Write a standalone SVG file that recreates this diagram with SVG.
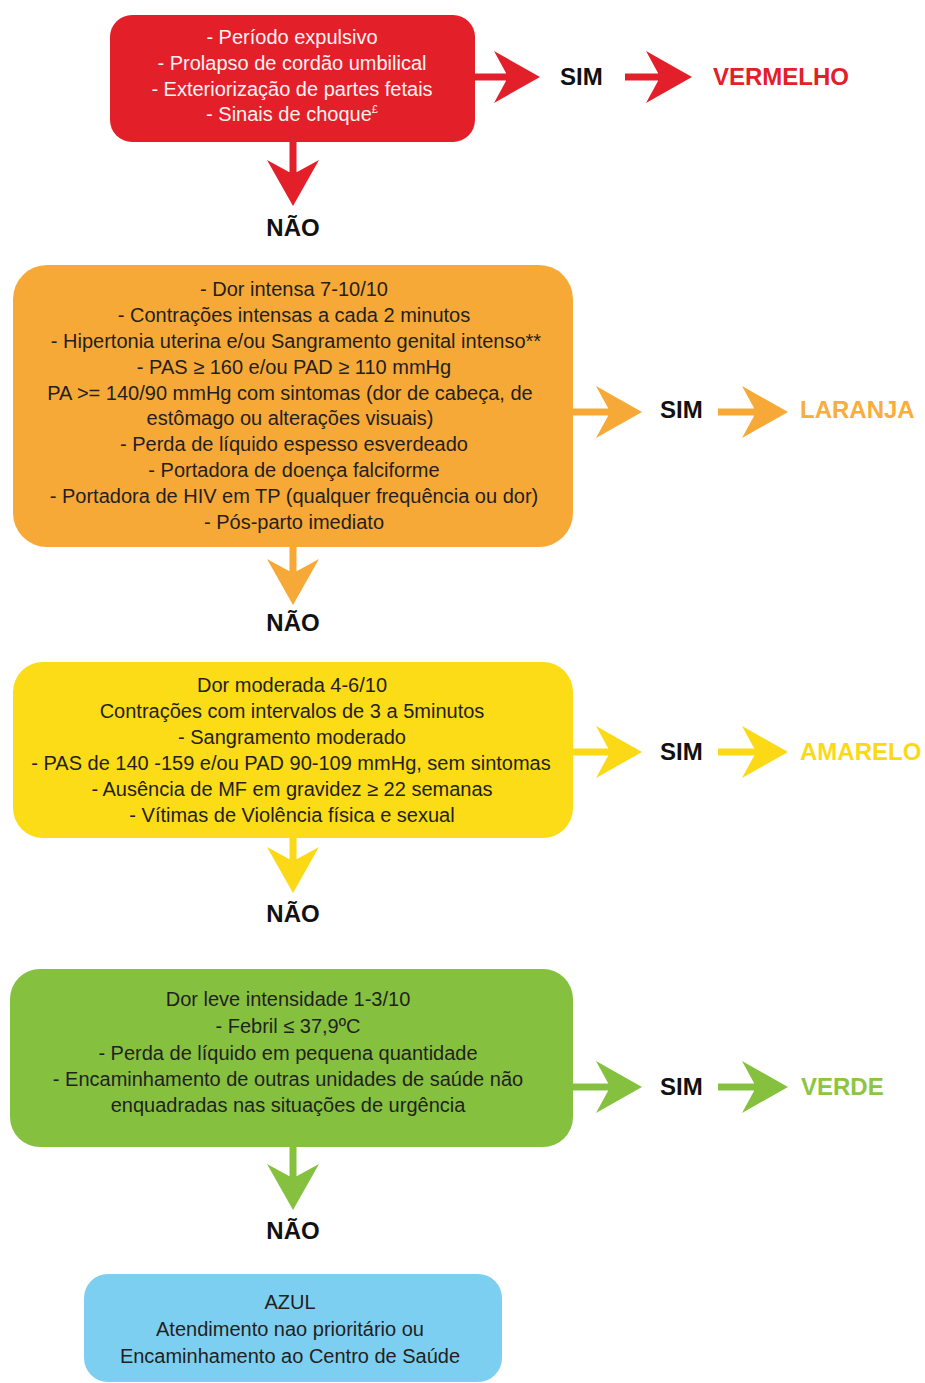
<svg xmlns="http://www.w3.org/2000/svg" width="925" height="1383" viewBox="0 0 925 1383">
  <style>
    .body { font-family: "Liberation Sans", Arial, sans-serif; font-size: 20px; text-anchor: middle; fill: #231f20; }
    .light { fill: #fff2f2; }
    .tag { font-family: "Liberation Sans", Arial, sans-serif; font-size: 24px; font-weight: bold; fill: #111; }
    .mid { text-anchor: middle; }
    .shaft { fill: none; stroke-width: 7; }
  </style>
  <defs>
    <!-- notched arrowheads, one per colour; reference point sits in the notch -->
    <marker id="headRed" markerUnits="userSpaceOnUse" viewBox="0 0 46 52" markerWidth="46" markerHeight="52" refX="12" refY="26" orient="auto">
      <path d="M46,26 L0,0 L12,22 L12,30 L0,52 Z" fill="#e3202a"/>
    </marker>
    <marker id="headOrange" markerUnits="userSpaceOnUse" viewBox="0 0 46 52" markerWidth="46" markerHeight="52" refX="12" refY="26" orient="auto">
      <path d="M46,26 L0,0 L12,22 L12,30 L0,52 Z" fill="#f7a937"/>
    </marker>
    <marker id="headYellow" markerUnits="userSpaceOnUse" viewBox="0 0 46 52" markerWidth="46" markerHeight="52" refX="12" refY="26" orient="auto">
      <path d="M46,26 L0,0 L12,22 L12,30 L0,52 Z" fill="#fcd916"/>
    </marker>
    <marker id="headGreen" markerUnits="userSpaceOnUse" viewBox="0 0 46 52" markerWidth="46" markerHeight="52" refX="12" refY="26" orient="auto">
      <path d="M46,26 L0,0 L12,22 L12,30 L0,52 Z" fill="#85c13f"/>
    </marker>
  </defs>

  <rect width="925" height="1383" fill="#ffffff"/>

  <!-- connectors -->
  <g id="connectors">
    <line class="shaft" stroke="#e3202a" x1="475" y1="77" x2="506" y2="77" marker-end="url(#headRed)"/>
    <line class="shaft" stroke="#e3202a" x1="625" y1="77" x2="658" y2="77" marker-end="url(#headRed)"/>
    <line class="shaft" stroke="#e3202a" x1="293" y1="142" x2="293" y2="172" marker-end="url(#headRed)"/>

    <line class="shaft" stroke="#f7a937" x1="572" y1="412" x2="608" y2="412" marker-end="url(#headOrange)"/>
    <line class="shaft" stroke="#f7a937" x1="718" y1="412" x2="754" y2="412" marker-end="url(#headOrange)"/>
    <line class="shaft" stroke="#f7a937" x1="293" y1="547" x2="293" y2="571" marker-end="url(#headOrange)"/>

    <line class="shaft" stroke="#fcd916" x1="572" y1="752" x2="608" y2="752" marker-end="url(#headYellow)"/>
    <line class="shaft" stroke="#fcd916" x1="718" y1="752" x2="754" y2="752" marker-end="url(#headYellow)"/>
    <line class="shaft" stroke="#fcd916" x1="293" y1="838" x2="293" y2="859" marker-end="url(#headYellow)"/>

    <line class="shaft" stroke="#85c13f" x1="572" y1="1087" x2="608" y2="1087" marker-end="url(#headGreen)"/>
    <line class="shaft" stroke="#85c13f" x1="718" y1="1087" x2="754" y2="1087" marker-end="url(#headGreen)"/>
    <line class="shaft" stroke="#85c13f" x1="293" y1="1147" x2="293" y2="1176" marker-end="url(#headGreen)"/>
  </g>

  <!-- red criteria -->
  <g id="node-red">
    <rect x="110" y="15" width="365" height="127" rx="22" fill="#e3202a"/>
    <text class="body light" x="292" y="44">- Período expulsivo</text>
    <text class="body light" x="292" y="70">- Prolapso de cordão umbilical</text>
    <text class="body light" x="292" y="96">- Exteriorização de partes fetais</text>
    <text class="body light" x="292" y="121">- Sinais de choque<tspan font-size="11" dy="-8">£</tspan></text>
  </g>
  <g id="label-red">
    <text class="tag" x="560" y="85">SIM</text>
    <text class="tag" x="713" y="85" fill="#e3202a" style="fill:#e3202a">VERMELHO</text>
    <text class="tag mid" x="293" y="236">NÃO</text>
  </g>

  <!-- orange criteria -->
  <g id="node-orange">
    <rect x="13" y="265" width="560" height="282" rx="34" fill="#f7a937"/>
    <text class="body" x="294" y="296">- Dor intensa 7-10/10</text>
    <text class="body" x="294" y="322">- Contrações intensas a cada 2 minutos</text>
    <text class="body" x="296" y="348">- Hipertonia uterina e/ou Sangramento genital intenso**</text>
    <text class="body" x="294" y="374">- PAS ≥ 160 e/ou PAD ≥ 110 mmHg</text>
    <text class="body" x="290" y="400">PA &gt;= 140/90 mmHg com sintomas (dor de cabeça, de</text>
    <text class="body" x="290" y="425">estômago ou alterações visuais)</text>
    <text class="body" x="294" y="451">- Perda de líquido espesso esverdeado</text>
    <text class="body" x="294" y="477">- Portadora de doença falciforme</text>
    <text class="body" x="294" y="503">- Portadora de HIV em TP (qualquer frequência ou dor)</text>
    <text class="body" x="294" y="529">- Pós-parto imediato</text>
  </g>
  <g id="label-orange">
    <text class="tag" x="660" y="418">SIM</text>
    <text class="tag" x="800" y="418" style="fill:#f8ad3c">LARANJA</text>
    <text class="tag mid" x="293" y="631">NÃO</text>
  </g>

  <!-- yellow criteria -->
  <g id="node-yellow">
    <rect x="13" y="662" width="560" height="176" rx="30" fill="#fcdb17"/>
    <text class="body" x="292" y="692">Dor moderada 4-6/10</text>
    <text class="body" x="292" y="718">Contrações com intervalos de 3 a 5minutos</text>
    <text class="body" x="292" y="744">- Sangramento moderado</text>
    <text class="body" x="291" y="770">- PAS de 140 -159 e/ou PAD 90-109 mmHg, sem sintomas</text>
    <text class="body" x="292" y="796">- Ausência de MF em gravidez ≥ 22 semanas</text>
    <text class="body" x="292" y="822">- Vítimas de Violência física e sexual</text>
  </g>
  <g id="label-yellow">
    <text class="tag" x="660" y="760">SIM</text>
    <text class="tag" x="800" y="760" style="fill:#fcd916">AMARELO</text>
    <text class="tag mid" x="293" y="922">NÃO</text>
  </g>

  <!-- green criteria -->
  <g id="node-green">
    <rect x="10" y="969" width="563" height="178" rx="30" fill="#85c13f"/>
    <text class="body" x="288" y="1006">Dor leve intensidade 1-3/10</text>
    <text class="body" x="288" y="1033">- Febril ≤ 37,9ºC</text>
    <text class="body" x="288" y="1060">- Perda de líquido em pequena quantidade</text>
    <text class="body" x="288" y="1086">- Encaminhamento de outras unidades de saúde não</text>
    <text class="body" x="288" y="1112">enquadradas nas situações de urgência</text>
  </g>
  <g id="label-green">
    <text class="tag" x="660" y="1095">SIM</text>
    <text class="tag" x="801" y="1095" style="fill:#8cc540">VERDE</text>
    <text class="tag mid" x="293" y="1239">NÃO</text>
  </g>

  <!-- blue outcome -->
  <g id="node-blue">
    <rect x="84" y="1274" width="418" height="108" rx="24" fill="#7dcff2"/>
    <text class="body" x="290" y="1309">AZUL</text>
    <text class="body" x="290" y="1336">Atendimento nao prioritário ou</text>
    <text class="body" x="290" y="1363">Encaminhamento ao Centro de Saúde</text>
  </g>
</svg>
